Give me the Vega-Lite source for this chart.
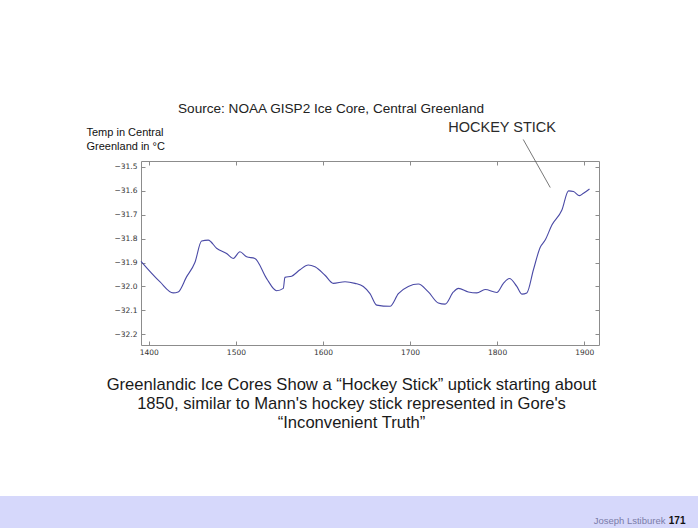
{
  "$schema": "https://vega.github.io/schema/vega-lite/v6.json",
  "width": 698,
  "height": 496,
  "autosize": {"type": "none"},
  "padding": {"left": 0, "top": 0, "right": 0, "bottom": 32},
  "background": "#d6d8fb",
  "title": {
    "text": "Source:  NOAA GISP2 Ice Core, Central Greenland",
    "anchor": "start",
    "frame": "group",
    "orient": "top",
    "offset": -127,
    "dx": 178,
    "baseline": "alphabetic",
    "font": "Liberation Sans",
    "fontSize": 13.6,
    "fontWeight": "normal",
    "color": "#222222"
  },
  "datasets": {
    "temps": [
      {"year": 1391, "temp": -31.895},
      {"year": 1412.6, "temp": -31.98},
      {"year": 1427.9, "temp": -32.027},
      {"year": 1433.7, "temp": -32.023},
      {"year": 1443.3, "temp": -31.96},
      {"year": 1452.9, "temp": -31.9},
      {"year": 1460.6, "temp": -31.81},
      {"year": 1468.2, "temp": -31.806},
      {"year": 1477.8, "temp": -31.84},
      {"year": 1489.3, "temp": -31.862},
      {"year": 1496.9, "temp": -31.883},
      {"year": 1504.6, "temp": -31.855},
      {"year": 1512.3, "temp": -31.876},
      {"year": 1521.8, "temp": -31.883},
      {"year": 1535.3, "temp": -31.967},
      {"year": 1546.8, "temp": -32.018},
      {"year": 1554.4, "temp": -32.008},
      {"year": 1556.3, "temp": -31.962},
      {"year": 1564, "temp": -31.957},
      {"year": 1573.6, "temp": -31.93},
      {"year": 1583.1, "temp": -31.91},
      {"year": 1590.8, "temp": -31.918},
      {"year": 1602.3, "temp": -31.953},
      {"year": 1611.8, "temp": -31.987},
      {"year": 1625.3, "temp": -31.98},
      {"year": 1636.8, "temp": -31.987},
      {"year": 1646.3, "temp": -32.0},
      {"year": 1654, "temp": -32.03},
      {"year": 1661.7, "temp": -32.078},
      {"year": 1677, "temp": -32.083},
      {"year": 1686.6, "temp": -32.03},
      {"year": 1698, "temp": -32.0},
      {"year": 1709.5, "temp": -31.99},
      {"year": 1721, "temp": -32.023},
      {"year": 1732.5, "temp": -32.069},
      {"year": 1740.2, "temp": -32.074},
      {"year": 1749.8, "temp": -32.023},
      {"year": 1755.5, "temp": -32.008},
      {"year": 1767, "temp": -32.023},
      {"year": 1776.7, "temp": -32.027},
      {"year": 1786.2, "temp": -32.013},
      {"year": 1799.7, "temp": -32.025},
      {"year": 1807.2, "temp": -31.987},
      {"year": 1814.1, "temp": -31.967},
      {"year": 1822.6, "temp": -32.0},
      {"year": 1828.4, "temp": -32.032},
      {"year": 1834.1, "temp": -32.027},
      {"year": 1841.7, "temp": -31.93},
      {"year": 1849.4, "temp": -31.837},
      {"year": 1855.2, "temp": -31.806},
      {"year": 1862.9, "temp": -31.743},
      {"year": 1874.4, "temp": -31.68},
      {"year": 1882, "temp": -31.6},
      {"year": 1887.7, "temp": -31.603},
      {"year": 1894.6, "temp": -31.62},
      {"year": 1899.2, "temp": -31.61},
      {"year": 1906.1, "temp": -31.592}
    ],
    "pointer": [
      {"x1": 1830, "y1": -31.385, "x2": 1861, "y2": -31.586}
    ],
    "label": [
      {"year": 1805.7, "temp": -31.355, "label": "HOCKEY STICK"}
    ]
  },
  "layer": [
    {
      "data": {"name": "temps"},
      "mark": {"type": "line", "color": "#4a4aa6", "strokeWidth": 1.1, "interpolate": "monotone"},
      "encoding": {
        "x": {
          "field": "year",
          "type": "quantitative",
          "scale": {"domain": [1391, 1917], "range": [141, 599], "nice": false, "zero": false},
          "axis": {
            "orient": "bottom",
            "offset": -151,
            "values": [1400, 1500, 1600, 1700, 1800, 1900],
            "format": "d",
            "tickSize": -4,
            "labelPadding": 7,
            "title": [
              "Greenlandic Ice Cores Show a “Hockey Stick” uptick starting about",
              "1850, similar to Mann's hockey stick represented in Gore's",
              "“Inconvenient Truth”"
            ],
            "titleX": 351,
            "titleY": 44,
            "titleAlign": "center",
            "titleAnchor": null,
            "titleBaseline": "alphabetic",
            "titleFont": "Liberation Sans",
            "titleFontSize": 16.6,
            "titleFontWeight": "normal",
            "titleColor": "#1a1a1a",
            "titleLineHeight": 19
          }
        },
        "y": {
          "field": "temp",
          "type": "quantitative",
          "scale": {"domain": [-32.245, -31.475], "range": [345, 161], "nice": false, "zero": false},
          "axis": {
            "orient": "left",
            "offset": -141,
            "values": [-31.5, -31.6, -31.7, -31.8, -31.9, -32.0, -32.1, -32.2],
            "format": ".1f",
            "tickSize": -4,
            "labelPadding": 8,
            "title": ["Temp in Central", "Greenland in °C"],
            "titleAngle": 0,
            "titleAlign": "left",
            "titleBaseline": "alphabetic",
            "titleX": -55,
            "titleY": 135,
            "titleFont": "Liberation Sans",
            "titleFontSize": 11,
            "titleFontWeight": "normal",
            "titleColor": "#111111",
            "titleLineHeight": 14
          }
        }
      }
    },
    {
      "data": {"name": "pointer"},
      "mark": {"type": "rule", "color": "#555555", "strokeWidth": 0.8},
      "encoding": {
        "x": {
          "field": "x1",
          "type": "quantitative",
          "axis": {
            "orient": "top",
            "offset": -161,
            "values": [1400, 1500, 1600, 1700, 1800, 1900],
            "labels": false,
            "tickSize": -4,
            "title": "Joseph Lstiburek",
            "titleX": 665,
            "titleY": 362,
            "titleAlign": "right",
            "titleBaseline": "alphabetic",
            "titleAngle": 0,
            "titleFont": "Liberation Sans",
            "titleFontSize": 9.5,
            "titleFontWeight": "normal",
            "titleColor": "#7b7ca8"
          }
        },
        "x2": {"field": "x2"},
        "y": {
          "field": "y1",
          "type": "quantitative",
          "axis": {
            "orient": "right",
            "offset": -99,
            "values": [-31.5, -31.6, -31.7, -31.8, -31.9, -32.0, -32.1, -32.2],
            "labels": false,
            "tickSize": -4,
            "title": "171",
            "titleAngle": 0,
            "titleX": 86,
            "titleY": 523,
            "titleAlign": "right",
            "titleBaseline": "alphabetic",
            "titleFont": "Liberation Sans",
            "titleFontSize": 10,
            "titleFontWeight": "bold",
            "titleColor": "#111111"
          }
        },
        "y2": {"field": "y2"}
      }
    },
    {
      "data": {"name": "label"},
      "mark": {"type": "text", "font": "Liberation Sans", "fontSize": 14.5, "color": "#2a2a2a", "align": "center", "baseline": "alphabetic"},
      "encoding": {
        "x": {"field": "year", "type": "quantitative", "axis": null},
        "y": {"field": "temp", "type": "quantitative", "axis": null},
        "text": {"field": "label"}
      }
    }
  ],
  "resolve": {"axis": {"x": "independent", "y": "independent"}},
  "config": {
    "view": {"fill": "white", "stroke": null},
    "axis": {
      "grid": false,
      "domainColor": "#8c8c8c",
      "domainWidth": 1,
      "tickColor": "#8c8c8c",
      "labelFont": "DejaVu Sans",
      "labelFontSize": 7.5,
      "labelColor": "#333333"
    }
  }
}
